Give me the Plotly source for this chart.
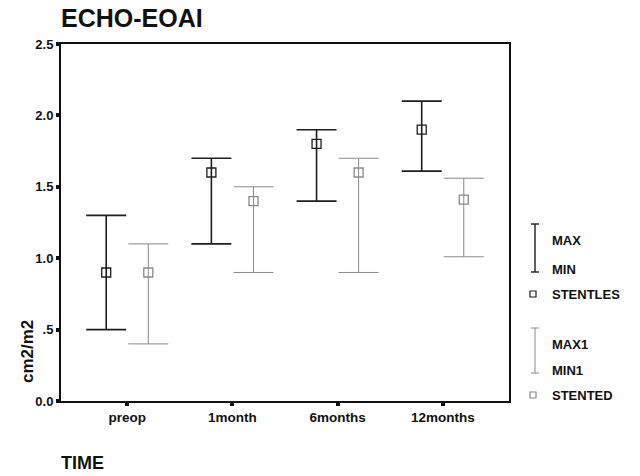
import plotly.graph_objects as go

categories = ["preop", "1month", "6months", "12months"]
stentles_mean = [0.9, 1.6, 1.8, 1.9]
stentles_max = [1.3, 1.7, 1.9, 2.1]
stentles_min = [0.5, 1.1, 1.4, 1.61]
stented_mean = [0.9, 1.4, 1.6, 1.41]
stented_max = [1.1, 1.5, 1.7, 1.56]
stented_min = [0.4, 0.9, 0.9, 1.01]
ytick_vals = [0.0, 0.5, 1.0, 1.5, 2.0, 2.5]
ytick_text = ["0.0", ".5", "1.0", "1.5", "2.0", "2.5"]

DARK = "#1e1e1e"
LIGHT = "#8a8a8a"
FONT = "Liberation Sans, Arial, sans-serif"

fig = go.Figure()

def add_series(mean, mx, mn, color, lw, name):
    fig.add_trace(go.Scatter(
        x=categories, y=mean, mode="markers", name=name,
        offsetgroup=name,
        marker=dict(symbol="square-open", size=9, color=color, line=dict(width=1.3, color=color)),
        error_y=dict(type="data", symmetric=False,
                     array=[a - m for a, m in zip(mx, mean)],
                     arrayminus=[m - b for m, b in zip(mean, mn)],
                     color=color, thickness=lw, width=20),
        showlegend=False,
    ))

add_series(stentles_mean, stentles_max, stentles_min, DARK, 1.6, "STENTLES")
add_series(stented_mean, stented_max, stented_min, LIGHT, 1.0, "STENTED")

fig.update_layout(
    width=640, height=476,
    margin=dict(l=61, r=131, t=44, b=75),
    paper_bgcolor="white", plot_bgcolor="white",
    scattermode="group", scattergap=0.2,
    font=dict(family=FONT, size=13, color="#111"),
    title=dict(text="<b>ECHO-EOAI</b>", x=61/640, xanchor="left", y=1 - 18/476, yanchor="middle",
               font=dict(family=FONT, size=25, color="#111")),
)
fig.update_xaxes(
    type="category", range=[-0.63, 3.63],
    showline=True, linecolor="#111", linewidth=2, mirror=True,
    ticks="outside", ticklen=3, tickwidth=4, tickcolor="#111",
    tickfont=dict(family=FONT, size=13.5, color="#111"),
    tickprefix="<b>", ticksuffix="</b>",
    showgrid=False, zeroline=False,
)
fig.update_yaxes(
    range=[0, 2.5], tickvals=ytick_vals, ticktext=["<b>%s</b>" % t for t in ytick_text],
    showline=True, linecolor="#111", linewidth=2, mirror=True,
    ticks="outside", ticklen=3, tickwidth=4, tickcolor="#111",
    tickfont=dict(family=FONT, size=13, color="#111"),
    showgrid=False, zeroline=False,
)

def px_x(px):
    return (px - 61) / 448
def px_y(py):
    return (401 - py) / 357

# y-axis title
fig.add_annotation(text="<b>cm2/m2</b>", xref="paper", yref="paper", x=px_x(27), y=px_y(352),
                   xanchor="center", yanchor="middle", textangle=-90, showarrow=False,
                   font=dict(family=FONT, size=17, color="#111"))

# x-axis title "TIME" at bottom left
fig.add_annotation(text="<b>TIME</b>", xref="paper", yref="paper", x=px_x(59), y=px_y(463),
                   xanchor="left", yanchor="middle", showarrow=False,
                   font=dict(family=FONT, size=18, color="#111"))

# custom legend (paper coordinates)
def legend_block(top, bottom, sq, color, lw, labels):
    fig.add_shape(type="line", xref="paper", yref="paper", x0=px_x(535), x1=px_x(535),
                  y0=px_y(top), y1=px_y(bottom), line=dict(color=color, width=lw))
    for yy in (top, bottom):
        fig.add_shape(type="line", xref="paper", yref="paper", x0=px_x(531), x1=px_x(539),
                      y0=px_y(yy), y1=px_y(yy), line=dict(color=color, width=lw))
    fig.add_shape(type="rect", xref="paper", yref="paper", x0=px_x(530), x1=px_x(536),
                  y0=px_y(sq - 3), y1=px_y(sq + 3), line=dict(color=color, width=1.2))
    for txt, yy in zip(labels, (top + 16, bottom - 3, sq)):
        fig.add_annotation(text="<b>%s</b>" % txt, xref="paper", yref="paper", x=px_x(550), y=px_y(yy),
                           xanchor="left", yanchor="middle", showarrow=False,
                           font=dict(family=FONT, size=13, color="#111"))

legend_block(224, 272, 294, DARK, 1.4, ["MAX", "MIN", "STENTLES"])
legend_block(328, 373, 395, LIGHT, 1.0, ["MAX1", "MIN1", "STENTED"])

fig.write_html("out.html")
